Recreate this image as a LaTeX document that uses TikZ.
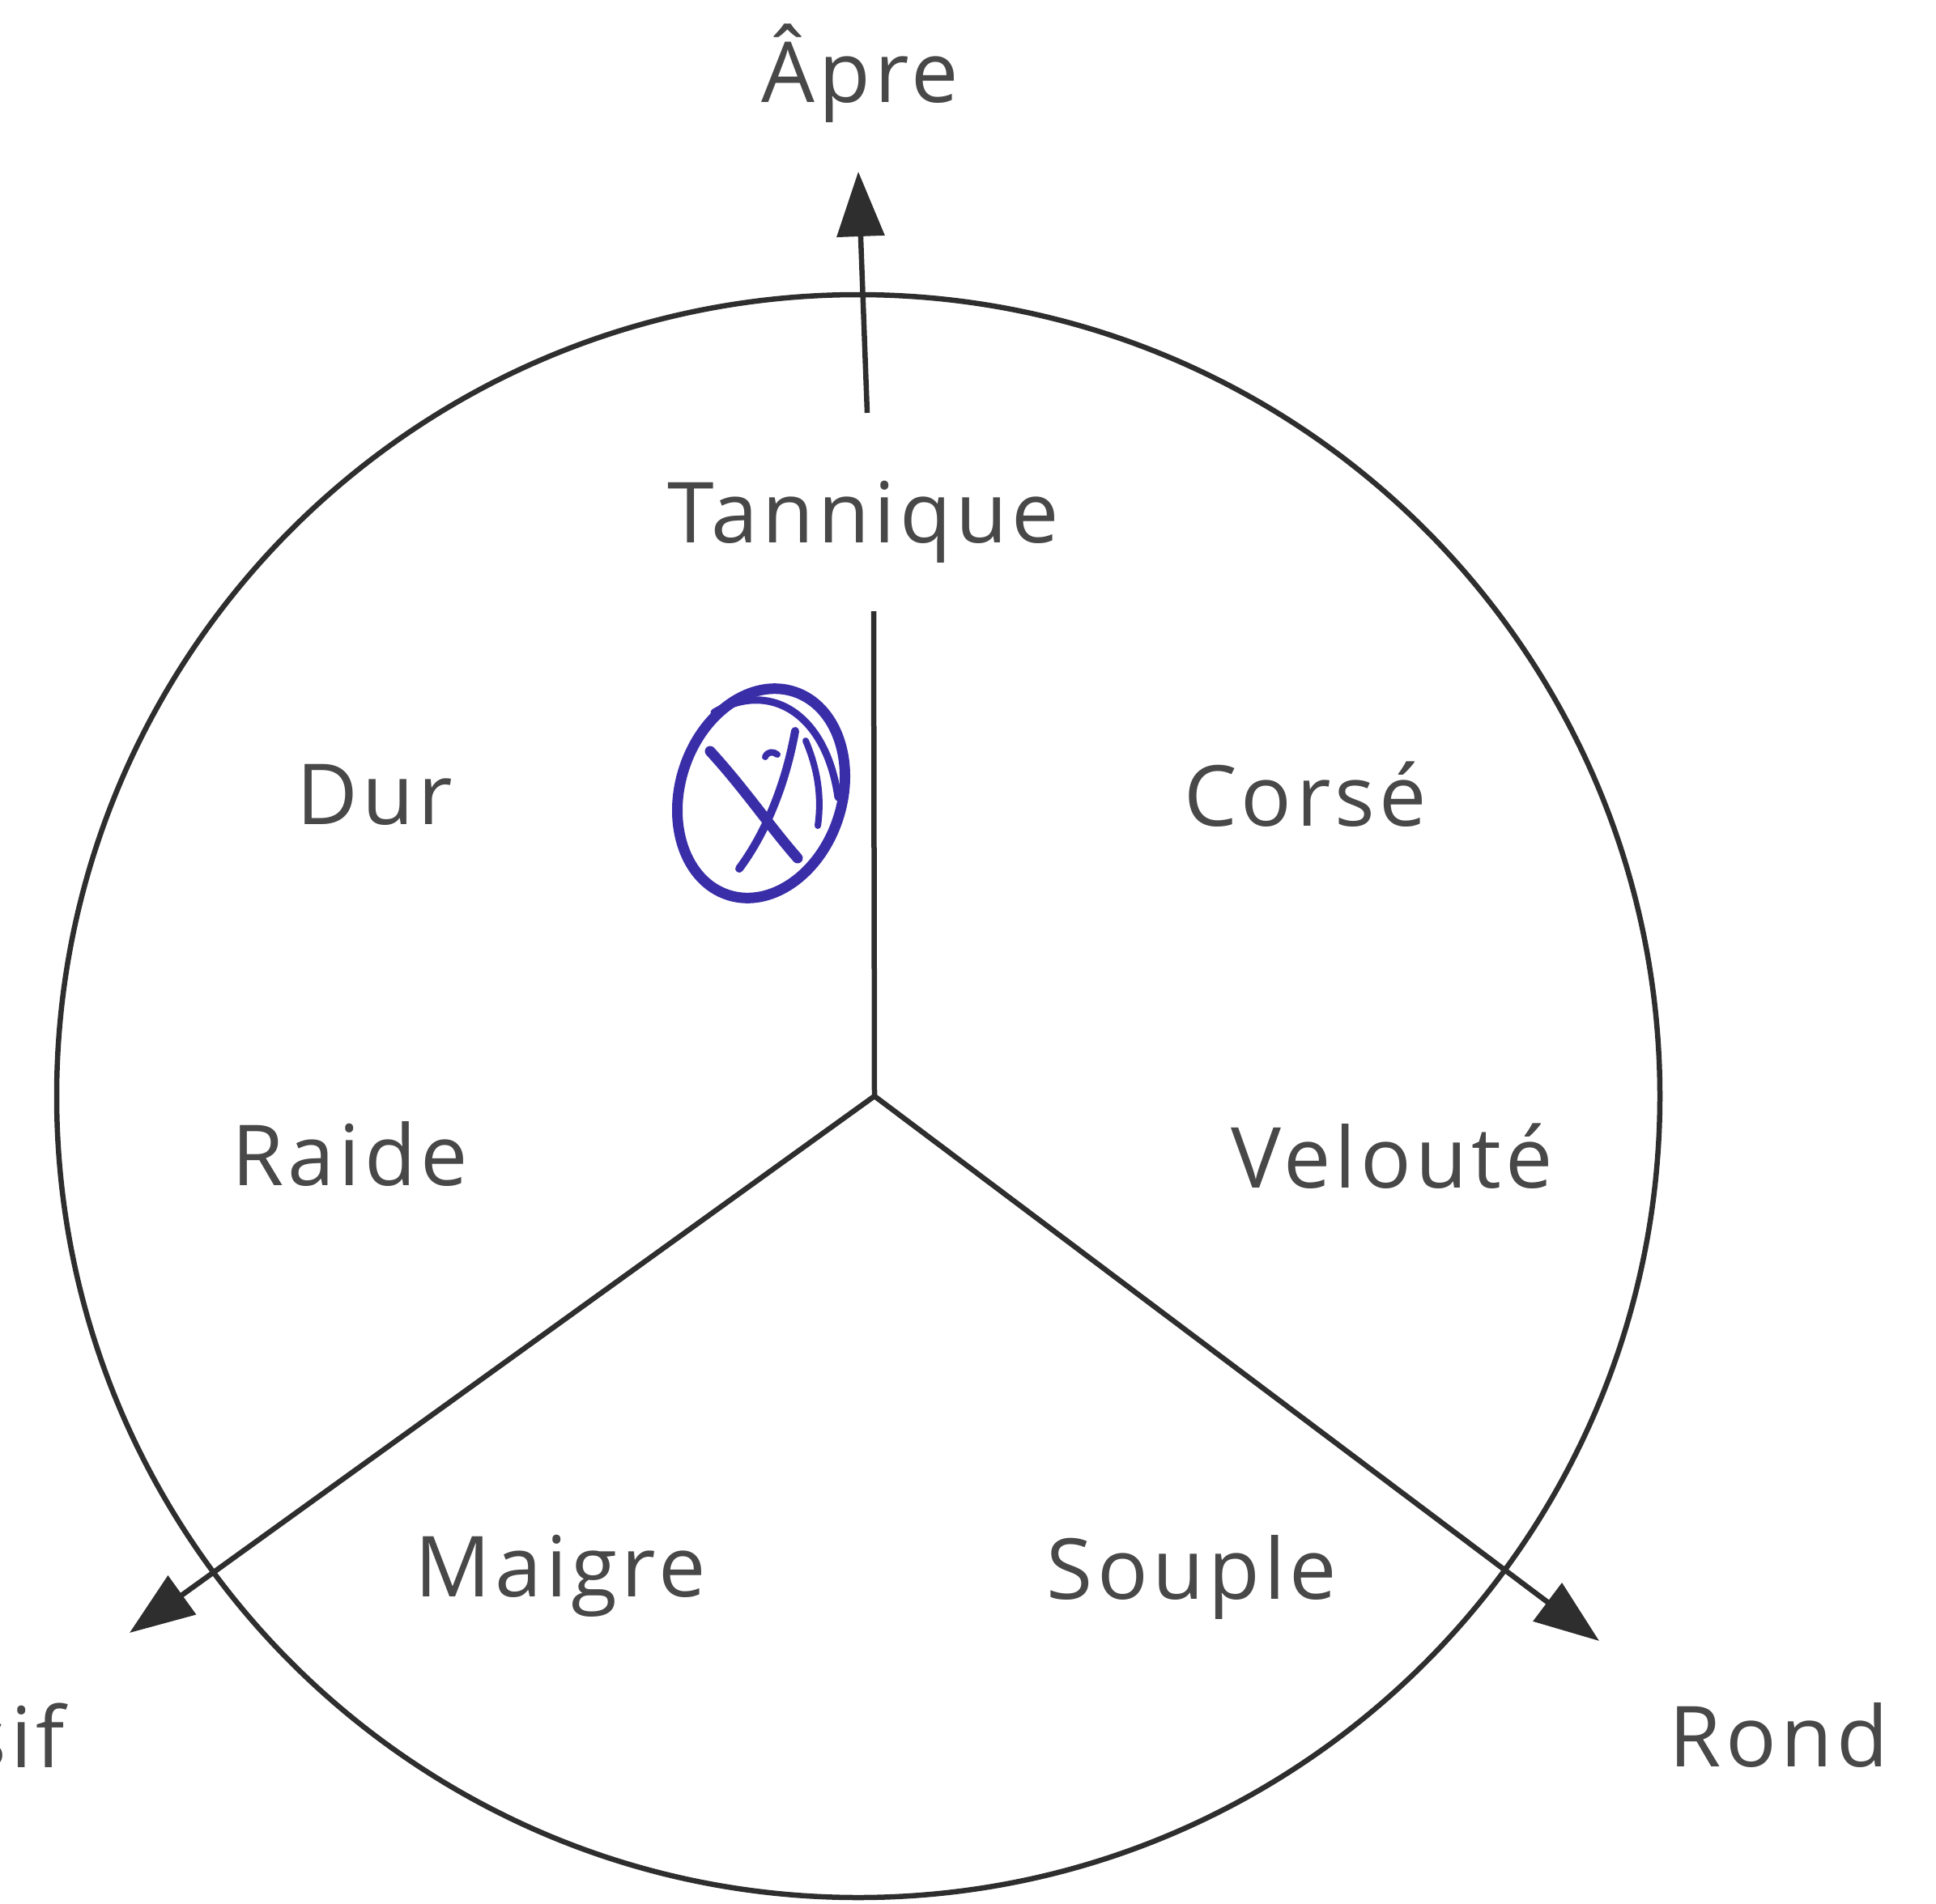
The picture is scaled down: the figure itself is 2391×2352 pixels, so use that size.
\documentclass[tikz,border=0pt]{standalone}
\usepackage{fontspec}
\setmainfont{Open Sans}[LetterSpace=5]
\usetikzlibrary{arrows.meta}
\definecolor{ink}{HTML}{2E2E2E}
\definecolor{txt}{HTML}{484848}
\definecolor{pen}{HTML}{3A2EA8}
\begin{document}
\begin{tikzpicture}[x=1pt,y=-1pt,
  lbl/.style={font=\fontsize{104}{120}\selectfont, text=txt, inner sep=0pt, anchor=base},
  axisline/.style={draw=ink, line width=6.5pt},
  tipped/.style={-{Triangle[length=80pt,width=58pt]}},
  penline/.style={draw=pen, line width=13pt, line cap=round, line join=round}]
\useasboundingbox (0,0) rectangle (2391,2352);
\fill[white] (0,0) rectangle (2391,2352);
% circle
\draw[axisline] (1060,1354) circle[radius=990];
% axes
\coordinate (c) at (1080,1354);
\coordinate (t1) at (1079,755);
\coordinate (t2) at (1071,510);
\coordinate (tup) at (1060,212);
\coordinate (tl) at (160,2017);
\coordinate (tr) at (1975,2027);
\draw[axisline] (c) -- (t1);
\draw[axisline,tipped] (t2) -- (tup);
\draw[axisline,tipped] (c) -- (tl);
\draw[axisline,tipped] (c) -- (tr);
% labels
\node[lbl] (apre) at (1062,127) {Âpre};
\node[lbl] (tan) at (1066,670) {Tannique};
\node[lbl] (dur) at (463,1018) {Dur};
\node[lbl] (corse) at (1612,1020) {Corsé};
\node[lbl] (raide) at (432,1464) {Raide};
\node[lbl] (veloute) at (1719,1467) {Velouté};
\node[lbl] (maigre) at (692,1972) {Maigre};
\node[lbl] (souple) at (1472,1975) {Souple};
\node[lbl,anchor=base east] (massif) at (80,2183) {Massif};
\node[lbl] (rond) at (2197,2182) {Rond};
% hand-drawn mark
\draw[penline, rotate around={-18:(940,980)}] (940,980) ellipse[x radius=100, y radius=132];
\draw[penline, line width=9pt] (882,880) .. controls (950,840) and (1020,880) .. (1035,985);
\draw[penline] (877,928) .. controls (920,975) and (950,1020) .. (985,1060);
\draw[penline, line width=10pt] (982,903) .. controls (970,970) and (945,1030) .. (913,1073);
\draw[penline, line width=8pt] (995,915) .. controls (1010,950) and (1015,985) .. (1010,1020);
\draw[penline, line width=8pt] (945,935) .. controls (948,928) and (955,928) .. (960,932);
\end{tikzpicture}
\end{document}
